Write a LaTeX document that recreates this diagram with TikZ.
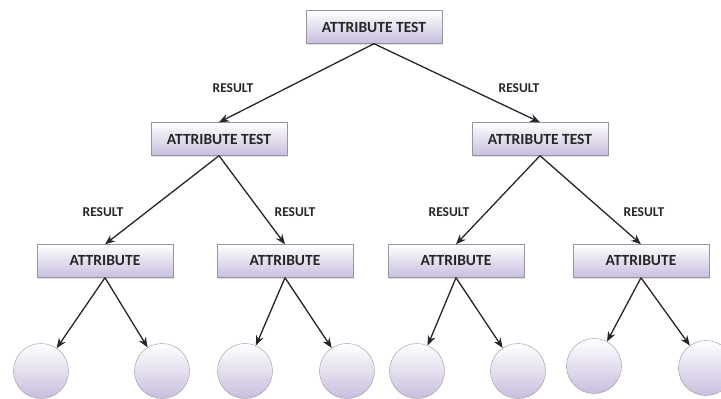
\documentclass[tikz,border=0pt]{standalone}
\usepackage{fontspec}
\setmainfont{Carlito}
\usepackage{xcolor}
\usetikzlibrary{arrows.meta, positioning, shapes.geometric, shadows}

\definecolor{lavender}{RGB}{200,190,222}
\definecolor{edgegray}{RGB}{150,150,160}

\begin{document}
\begin{tikzpicture}[x=1pt, y=-1pt,
    testbox/.style={draw=edgegray, rectangle, minimum width=136pt, minimum height=33pt,
        top color=white, bottom color=lavender, font=\fontsize{15.5}{17}\selectfont\bfseries,
        text=black!85, drop shadow={opacity=0.25, shadow xshift=1pt, shadow yshift=-1.5pt}},
    leaf/.style={draw=edgegray, circle, minimum size=55pt, inner sep=0pt,
        top color=white, bottom color=lavender},
    result/.style={font=\fontsize{13.5}{15}\selectfont\bfseries, text=black!85},
    link/.style={-{Stealth[length=10pt, width=8pt]}, line width=1.3pt, draw=black!85}]

    \useasboundingbox (0,0) rectangle (721,399);

    % Root test
    \node[testbox] (root) at (374,27) {ATTRIBUTE TEST};

    % Second level tests
    \node[testbox] (test_l) at (219,139) {ATTRIBUTE TEST};
    \node[testbox] (test_r) at (540,139) {ATTRIBUTE TEST};

    % Attributes
    \node[testbox] (attr_a) at (105,261) {ATTRIBUTE};
    \node[testbox] (attr_b) at (285,261) {ATTRIBUTE};
    \node[testbox] (attr_c) at (456,261) {ATTRIBUTE};
    \node[testbox] (attr_d) at (641,261) {ATTRIBUTE};

    % Leaves
    \node[leaf] (leaf_a1) at (41,371) {};
    \node[leaf] (leaf_a2) at (162,371) {};
    \node[leaf] (leaf_b1) at (245,371) {};
    \node[leaf] (leaf_b2) at (347,371) {};
    \node[leaf] (leaf_c1) at (417,371) {};
    \node[leaf] (leaf_c2) at (518,371) {};
    \node[leaf] (leaf_d1) at (594,366) {};
    \node[leaf] (leaf_d2) at (706,368) {};

    % Result labels
    \node[result] (res_l) at (233,88) {RESULT};
    \node[result] (res_r) at (519,88) {RESULT};
    \node[result] (res_a) at (103,212) {RESULT};
    \node[result] (res_b) at (295,212) {RESULT};
    \node[result] (res_c) at (449,212) {RESULT};
    \node[result] (res_d) at (644,212) {RESULT};

    % Arrows
    \draw[link] (root.south) -- (test_l.north);
    \draw[link] (root.south) -- (test_r.north);
    \draw[link] (test_l.south) -- (attr_a.north);
    \draw[link] (test_l.south) -- (attr_b.north);
    \draw[link] (test_r.south) -- (attr_c.north);
    \draw[link] (test_r.south) -- (attr_d.north);
    \draw[link] (attr_a.south) -- (leaf_a1);
    \draw[link] (attr_a.south) -- (leaf_a2);
    \draw[link] (attr_b.south) -- (leaf_b1);
    \draw[link] (attr_b.south) -- (leaf_b2);
    \draw[link] (attr_c.south) -- (leaf_c1);
    \draw[link] (attr_c.south) -- (leaf_c2);
    \draw[link] (attr_d.south) -- (leaf_d1);
    \draw[link] (attr_d.south) -- (leaf_d2);

\end{tikzpicture}
\end{document}
